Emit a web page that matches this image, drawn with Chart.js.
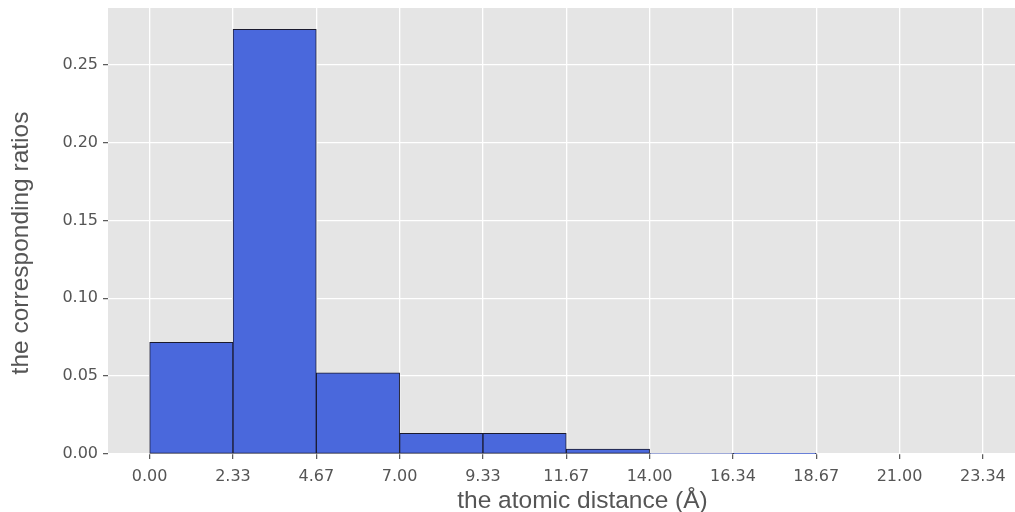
<!DOCTYPE html>
<html><head><meta charset="utf-8">
<script src="https://cdn.jsdelivr.net/npm/chart.js@4/dist/chart.umd.min.js"></script>
<style>html,body{margin:0;padding:0;background:#fff}#wrap{width:1015px;height:512px}</style>
</head><body><div id="wrap"><canvas id="c"></canvas></div>
<script>
const binEdges = [0.00, 2.334, 4.668, 7.002, 9.336, 11.67, 14.004, 16.338, 18.672, 21.006, 23.34];
const tickLabels = ["0.00","2.33","4.67","7.00","9.33","11.67","14.00","16.34","18.67","21.00","23.34"];
const ratios = [0.0717, 0.2728, 0.0521, 0.0132, 0.0132, 0.0031, 0.0005, 0.0001, 0, 0];
const yTicks = [0, 0.05, 0.10, 0.15, 0.20, 0.25];
const xLimits = [-1.167, 24.24];
const xTitle = 'the atomic distance (Å)';
const yTitle = 'the corresponding ratios';

const yMax = Math.max(...ratios) * 1.05;

const points = ratios.map((v,i)=>({x:(binEdges[i]+binEdges[i+1])/2, y:v}));

const bgPlugin = {
  id:'bg',
  beforeDraw(chart){
    const {ctx, chartArea:a} = chart;
    ctx.save(); ctx.fillStyle='#E5E5E5';
    ctx.fillRect(a.left, a.top, a.right-a.left, a.bottom-a.top);
    ctx.restore();
  },
  afterDraw(chart){
    const ctx = chart.ctx;
    ctx.save();
    ctx.fillStyle = '#555';
    ctx.font = '24.5px "Liberation Sans"';
    ctx.textAlign = 'center';
    ctx.textBaseline = 'alphabetic';
    ctx.fillText(xTitle, 582.5, 508);
    ctx.translate(21, 243);
    ctx.rotate(-Math.PI/2);
    ctx.textBaseline = 'middle';
    ctx.fillText(yTitle, 0, 0);
    ctx.restore();
  }
};

new Chart(document.getElementById('c'), {
  type:'bar',
  data:{datasets:[{data:points, backgroundColor:'#4a68dc', borderColor:'#1a1a2e', borderWidth:1,
    barPercentage:1, categoryPercentage:1, borderSkipped:false}]},
  options:{
    responsive:true, maintainAspectRatio:false, animation:false,
    layout:{padding:{top:8,right:0,left:0,bottom:0}},
    plugins:{legend:{display:false}, tooltip:{enabled:false}},
    scales:{
      x:{type:'linear', min:xLimits[0], max:xLimits[1], offset:false,
        afterBuildTicks(s){ s.ticks = binEdges.map(v=>({value:v})); },
        afterFit(s){ s.height = 58; s.paddingLeft = 0; s.paddingRight = 0; },
        ticks:{autoSkip:false, maxRotation:0, color:'#555', font:{family:'DejaVu Sans', size:16}, padding:8,
          callback:(v,i)=>tickLabels[i]},
        grid:{offset:false, color:'#ffffff', lineWidth:1.3, drawTicks:true, tickLength:5, tickColor:'#555', tickWidth:1.2},
        border:{display:false},
        title:{display:false}
      },
      y:{min:0, max:yMax,
        afterBuildTicks(s){ s.ticks = yTicks.map(v=>({value:v})); },
        afterFit(s){ s.width = 108; s.paddingTop = 0; s.paddingBottom = 0; },
        ticks:{color:'#555', font:{family:'DejaVu Sans', size:16}, padding:5, callback:v=>v.toFixed(2)},
        grid:{offset:false, color:'#ffffff', lineWidth:1.3, drawTicks:true, tickLength:5, tickColor:'#555', tickWidth:1.2},
        border:{display:false},
        title:{display:false}
      }
    }
  },
  plugins:[bgPlugin]
});
</script></body></html>
